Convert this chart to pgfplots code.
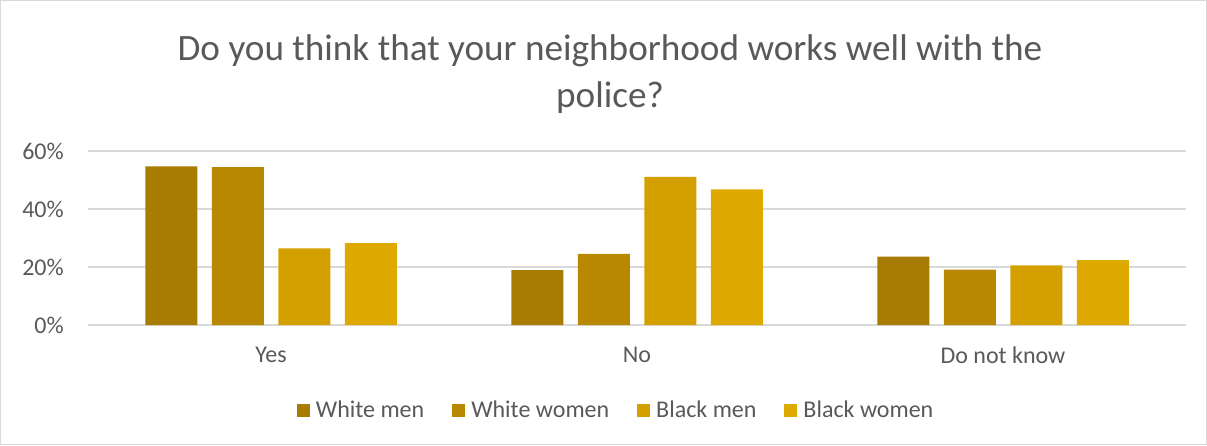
\documentclass[border=0pt]{standalone}
\usepackage{pgfplots}
\pgfplotsset{compat=1.18}
\usepackage{fontspec}
\setmainfont{Carlito}
\definecolor{c1}{HTML}{A87C00}
\definecolor{c2}{HTML}{B88900}
\definecolor{c3}{HTML}{D4A000}
\definecolor{c4}{HTML}{DEA900}
\definecolor{txt}{HTML}{595959}
\definecolor{gridc}{HTML}{D9D9D9}
\begin{document}
\begin{tikzpicture}[x=1pt,y=1pt]
\draw[gridc, line width=1pt] (0.5,0.5) rectangle (1206.5,444.5);
\node[txt, font=\fontsize{37.2}{47}\selectfont, align=center] at (610,371) {Do you think that your neighborhood works well with the\\police?};
\begin{axis}[at={(88pt,120pt)}, anchor=south west, scale only axis,
  width=1098pt, height=174pt,
  ymin=0, ymax=60, ytick={0,20,40,60},
  yticklabel={\pgfmathprintnumber{\tick}\%},
  /pgf/number format/assume math mode=true,
  xmin=-0.5, xmax=2.5, xtick={0,1,2}, xticklabels={Yes,No,Do not know},
  ybar=14.5pt, bar width=52pt,
  axis line style={draw=none}, major tick length=0pt,
  ymajorgrids, major grid style={gridc, line width=1.3pt},
  tick label style={txt, font=\fontsize{24}{28}\selectfont},
  yticklabel style={inner sep=0pt, anchor=east, xshift=-24pt},
  xticklabel style={inner sep=0pt, anchor=north, yshift=-22pt},
  legend columns=4,
  legend style={draw=none, at={(0.481,-0.489)}, anchor=center,
    font=\fontsize{24}{28}\selectfont, text=txt,
    /tikz/every even column/.append style={column sep=26pt}},
  legend image code/.code={\fill[#1] (0pt,-6.5pt) rectangle (13pt,6.5pt); \path (17pt,0pt);},
]
\addplot[fill=c1, draw=none] coordinates {(0,54.7) (1,18.9) (2,23.6)};
\addplot[fill=c2, draw=none] coordinates {(0,54.4) (1,24.5) (2,19.1)};
\addplot[fill=c3, draw=none] coordinates {(0,26.4) (1,51.1) (2,20.6)};
\addplot[fill=c4, draw=none] coordinates {(0,28.2) (1,46.8) (2,22.4)};
\legend{White men, White women, Black men, Black women}
\end{axis}
\end{tikzpicture}
\end{document}
